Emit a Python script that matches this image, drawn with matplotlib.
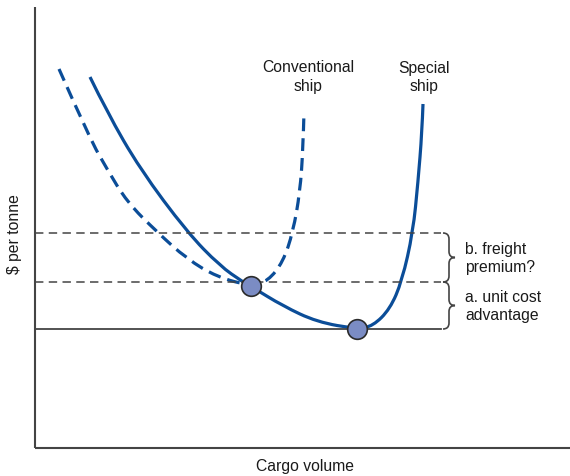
import numpy as np
import matplotlib.pyplot as plt
from matplotlib.path import Path
from matplotlib.patches import PathPatch

plt.rcParams['font.family'] = ['Liberation Sans', 'DejaVu Sans']

# points (pixel-like units, y grows downward)
special_x = [90, 107, 140, 187, 220, 243, 252, 283, 317, 357, 373, 390, 402, 413, 418, 422, 423]
special_y = [78, 113, 170, 233, 267, 283, 288, 307, 323, 330, 327, 310, 282, 233, 183, 133, 105]
conv_x = [59, 90, 107, 127, 157, 187, 217, 251, 268, 283, 293, 300, 303, 304]
conv_y = [70, 140, 170, 203, 233, 260, 278, 287, 282, 263, 233, 193, 150, 113]
equilibria_x = [251, 357]
equilibria_y = [287, 330]
levels = [330, 283, 234]          # unit cost special, conventional, freight rate
level_styles = ['-', '--', '--']
brace_texts = ['a. unit cost\nadvantage', 'b. freight\npremium?']

BLUE = '#0b4d98'
GREY = '#444444'
INK = '#1a1a1a'


def smooth_path(xs, ys):
    # quadratic b-spline through midpoints, drawn by matplotlib's path machinery
    pts = list(zip(xs, ys))
    verts = [pts[0]]
    codes = [Path.MOVETO]
    for i in range(1, len(pts) - 1):
        mid = ((pts[i][0] + pts[i + 1][0]) / 2, (pts[i][1] + pts[i + 1][1]) / 2)
        if i == len(pts) - 2:
            mid = pts[-1]
        verts += [pts[i], mid]
        codes += [Path.CURVE3, Path.CURVE3]
    return Path(verts, codes)


def brace(ax, x, y0, y1, w=6):
    ym = (y0 + y1) / 2
    verts = [(x, y0), (x + w, y0), (x + w, y0 + w),
             (x + w, ym - w), (x + w, ym), (x + 2 * w, ym),
             (x + w, ym), (x + w, ym + w),
             (x + w, y1 - w), (x + w, y1), (x, y1)]
    codes = [Path.MOVETO, Path.CURVE3, Path.CURVE3,
             Path.LINETO, Path.CURVE3, Path.CURVE3,
             Path.CURVE3, Path.CURVE3,
             Path.LINETO, Path.CURVE3, Path.CURVE3]
    ax.add_patch(PathPatch(Path(verts, codes), fill=False, ec=GREY, lw=1.2))


fig = plt.figure(figsize=(5.7, 4.77), dpi=100)
ax = fig.add_axes([0, 0, 1, 1])
ax.set_xlim(0, 570)
ax.set_ylim(477, 0)
ax.axis('off')

# axes
ax.plot([35, 35], [8, 449], color=GREY, lw=1.5, solid_capstyle='butt')
ax.plot([35, 570], [449, 449], color=GREY, lw=1.5, solid_capstyle='butt')

for lvl, ls in zip(levels, level_styles):
    if ls == '-':
        ax.plot([35, 441], [lvl, lvl], color=GREY, lw=1.3)
    else:
        ax.plot([35, 441], [lvl, lvl], color=GREY, lw=1.1,
                linestyle=(0, (5.5, 3.5)))

ax.add_patch(PathPatch(smooth_path(conv_x, conv_y), fill=False, ec=BLUE,
                       lw=2.3, linestyle=(0, (4, 2.2)), capstyle='butt'))
ax.add_patch(PathPatch(smooth_path(special_x, special_y), fill=False, ec=BLUE,
                       lw=2.3))

ax.scatter(equilibria_x, equilibria_y, s=200, color='#7b8cc4',
           edgecolor='#2b2b2b', linewidth=1.2, zorder=5)

brace(ax, 443, levels[1], levels[0])
brace(ax, 443, levels[2], levels[1])

fs = 11.3
ax.text(465, (levels[0] + levels[1]) / 2, brace_texts[0], fontsize=fs,
        va='center', ha='left', linespacing=1.25, color=INK)
ax.text(465, (levels[1] + levels[2]) / 2, brace_texts[1], fontsize=fs,
        va='center', ha='left', linespacing=1.25, color=INK)
ax.text(308, 77, 'Conventional\nship', fontsize=fs, ha='center', va='center',
        linespacing=1.25, color=INK)
ax.text(424, 77, 'Special\nship', fontsize=fs, ha='center', va='center',
        linespacing=1.25, color=INK)
ax.text(305, 467, 'Cargo volume', fontsize=fs, ha='center', va='center',
        color=INK)
ax.text(15, 234, '$ per tonne', fontsize=fs, ha='center', va='center',
        rotation=90, color=INK)

fig.savefig('out.png', dpi=100)
